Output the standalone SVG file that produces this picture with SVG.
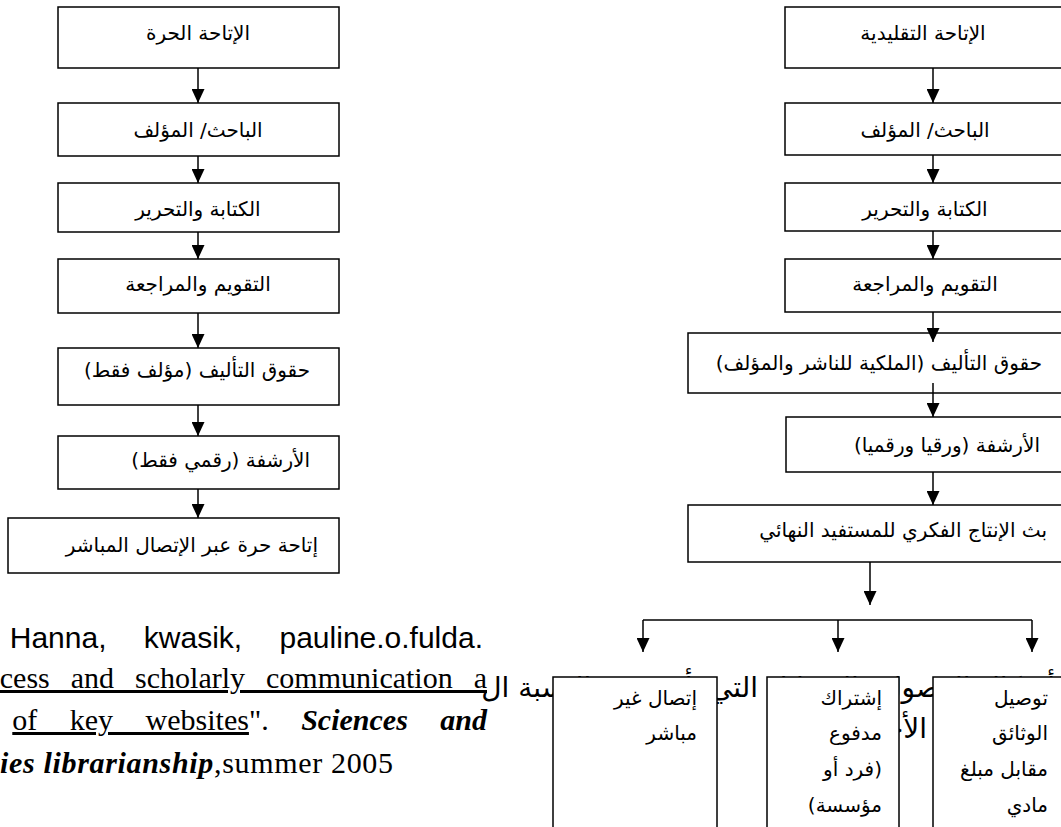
<svg xmlns="http://www.w3.org/2000/svg" width="1061" height="827" viewBox="0 0 1061 827">
<style>
.box{fill:#fff;stroke:#000;stroke-width:1.5}
.ar{font-family:"DejaVu Sans",sans-serif;font-size:20px;fill:#000}
.big{font-family:"DejaVu Sans",sans-serif;font-size:28px;fill:#000}
.en{font-family:"Liberation Sans",Arial,sans-serif;font-size:30px;fill:#000}
.serif{font-family:"Liberation Serif","Times New Roman",serif;font-size:30px;fill:#000}
.bi{font-weight:bold;font-style:italic}
.conn line{stroke:#000;stroke-width:1.5;fill:none}
</style>
<defs>
<marker id="ah" viewBox="0 0 14 13" refX="14" refY="6.5" markerWidth="14" markerHeight="13" markerUnits="userSpaceOnUse" orient="auto">
<path d="M0,0 L14,6.5 L0,13 z" fill="#000"/>
</marker>
</defs>
<rect width="1061" height="827" fill="#fff"/>

<!-- bibliography text -->
<text class="en" x="483" y="648" text-anchor="end" word-spacing="29">Hanna, kwasik, pauline.o.fulda.</text>
<text class="serif" x="487" y="688" text-anchor="end" word-spacing="13.5" text-decoration="underline">cess and scholarly communication a</text>
<text class="serif" x="487" y="730" text-anchor="end" word-spacing="25"><tspan text-decoration="underline">of key websites</tspan>". <tspan class="bi">Sciences and</tspan></text>
<text class="serif" x="0" y="773" textLength="393" lengthAdjust="spacing"><tspan class="bi">ies librarianship</tspan>,summer 2005</text>

<!-- background Arabic text partly covered by bottom boxes -->
<text class="big" x="1055" y="697" direction="rtl" text-anchor="start">أشكال الوصول والوسائل التي تأسست بالنسبة ال</text>
<text class="big" x="1030" y="738" direction="rtl" text-anchor="start">التقليدية الأخرى</text>

<g class="conn">
<line x1="198" y1="68" x2="198" y2="103" marker-end="url(#ah)"/>
<line x1="198" y1="156" x2="198" y2="183" marker-end="url(#ah)"/>
<line x1="198" y1="232" x2="198" y2="259" marker-end="url(#ah)"/>
<line x1="198" y1="313" x2="198" y2="348" marker-end="url(#ah)"/>
<line x1="198" y1="405" x2="198" y2="436" marker-end="url(#ah)"/>
<line x1="198" y1="489" x2="198" y2="518" marker-end="url(#ah)"/>
<line x1="933" y1="68" x2="933" y2="103" marker-end="url(#ah)"/>
<line x1="933" y1="155" x2="933" y2="183" marker-end="url(#ah)"/>
<line x1="933" y1="231" x2="933" y2="259" marker-end="url(#ah)"/>
<line x1="870" y1="562" x2="870" y2="605" marker-end="url(#ah)"/>
<line x1="643" y1="620" x2="1032" y2="620"/>
<line x1="643" y1="620" x2="643" y2="652" marker-end="url(#ah)"/>
<line x1="838" y1="620" x2="838" y2="652" marker-end="url(#ah)"/>
<line x1="1032" y1="620" x2="1032" y2="652" marker-end="url(#ah)"/>
</g>

<!-- left column -->
<g id="l1"><rect class="box" x="58" y="7" width="281" height="61"/><text class="ar" x="198" y="40" direction="rtl" text-anchor="middle">الإتاحة الحرة</text></g>
<g id="l2"><rect class="box" x="58" y="103" width="281" height="53"/><text class="ar" x="198" y="137" direction="rtl" text-anchor="middle">الباحث/ المؤلف</text></g>
<g id="l3"><rect class="box" x="58" y="183" width="281" height="49"/><text class="ar" x="198" y="216" direction="rtl" text-anchor="middle">الكتابة والتحرير</text></g>
<g id="l4"><rect class="box" x="58" y="259" width="281" height="54"/><text class="ar" x="198" y="291" direction="rtl" text-anchor="middle">التقويم والمراجعة</text></g>
<g id="l5"><rect class="box" x="58" y="348" width="281" height="57"/><text class="ar" x="310" y="377" direction="rtl" text-anchor="start">حقوق التأليف (مؤلف فقط)</text></g>
<g id="l6"><rect class="box" x="58" y="436" width="281" height="53"/><text class="ar" x="310" y="467" direction="rtl" text-anchor="start">الأرشفة (رقمي فقط)</text></g>
<g id="l7"><rect class="box" x="8" y="518" width="331" height="55"/><text class="ar" x="318" y="552" direction="rtl" text-anchor="start">إتاحة حرة عبر الإتصال المباشر</text></g>

<!-- right column -->
<g id="r1"><rect class="box" x="785" y="7" width="290" height="61"/><text class="ar" x="923" y="40" direction="rtl" text-anchor="middle">الإتاحة التقليدية</text></g>
<g id="r2"><rect class="box" x="785" y="103" width="290" height="52"/><text class="ar" x="925" y="137" direction="rtl" text-anchor="middle">الباحث/ المؤلف</text></g>
<g id="r3"><rect class="box" x="785" y="183" width="290" height="48"/><text class="ar" x="925" y="216" direction="rtl" text-anchor="middle">الكتابة والتحرير</text></g>
<g id="r4"><rect class="box" x="785" y="259" width="290" height="53"/><text class="ar" x="925" y="291" direction="rtl" text-anchor="middle">التقويم والمراجعة</text></g>
<g id="r5"><rect class="box" x="688" y="333" width="387" height="60"/><text class="ar" x="1042" y="370" direction="rtl" text-anchor="start">حقوق التأليف (الملكية للناشر والمؤلف)</text></g>
<g id="r6"><rect class="box" x="786" y="417" width="289" height="55"/><text class="ar" x="1040" y="452" direction="rtl" text-anchor="start">الأرشفة (ورقيا ورقميا)</text></g>
<g id="r7"><rect class="box" x="688" y="505" width="387" height="57"/><text class="ar" x="1047" y="537" direction="rtl" text-anchor="start">بث الإنتاج الفكري للمستفيد النهائي</text></g>

<g class="conn">
<line x1="933" y1="312" x2="933" y2="342" marker-end="url(#ah)"/>
<line x1="933" y1="383" x2="933" y2="417" marker-end="url(#ah)"/>
<line x1="933" y1="472" x2="933" y2="505" marker-end="url(#ah)"/>
</g>

<!-- bottom boxes -->
<g id="b1"><rect class="box" x="553" y="677" width="164" height="170"/>
<text class="ar" direction="rtl" text-anchor="start"><tspan x="697" y="705">إتصال غير</tspan><tspan x="697" y="740">مباشر</tspan></text></g>
<g id="b2"><rect class="box" x="767" y="677" width="132" height="170"/>
<text class="ar" direction="rtl" text-anchor="start"><tspan x="882" y="705">إشتراك</tspan><tspan x="882" y="740">مدفوع</tspan><tspan x="882" y="776">(فرد أو</tspan><tspan x="882" y="812">مؤسسة)</tspan></text></g>
<g id="b3"><rect class="box" x="933" y="677" width="140" height="170"/>
<text class="ar" direction="rtl" text-anchor="start"><tspan x="1048" y="705">توصيل</tspan><tspan x="1048" y="740">الوثائق</tspan><tspan x="1048" y="776">مقابل مبلغ</tspan><tspan x="1048" y="812">مادي</tspan></text></g>
</svg>
